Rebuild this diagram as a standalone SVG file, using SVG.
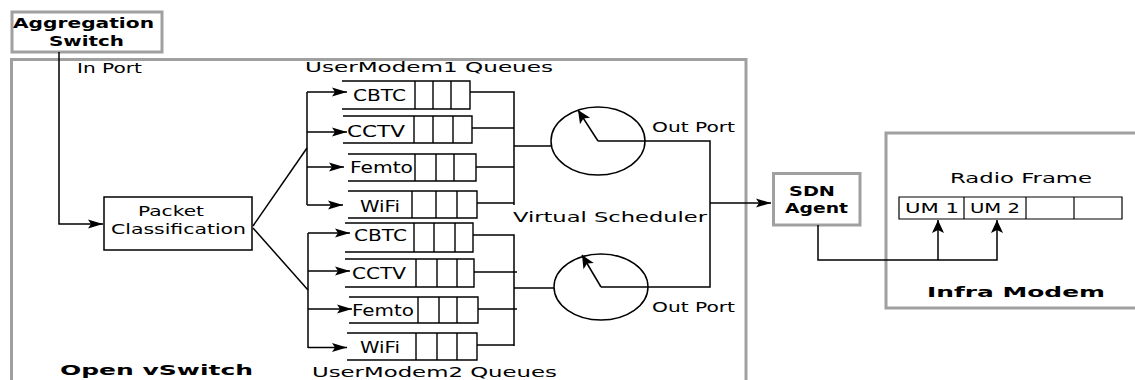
<svg xmlns="http://www.w3.org/2000/svg" width="1135" height="380" viewBox="0 0 1135 380">
<style>
.box{fill:#fff;stroke:#a0a0a0;stroke-width:3}
.ln{fill:none;stroke:#000;stroke-width:1.5}
.q{fill:none;stroke:#000;stroke-width:1.4}
.t{font-family:"DejaVu Sans",sans-serif;font-size:14px;fill:#000}
.ql{font-family:"DejaVu Sans",sans-serif;font-size:16px;fill:#000}
.b{font-family:"DejaVu Sans",sans-serif;font-weight:bold;font-size:14px;fill:#000}
</style>
<defs>
<marker id="ah" markerUnits="userSpaceOnUse" markerWidth="20" markerHeight="12" refX="15" refY="5" orient="auto" overflow="visible">
<path d="M0,0.5 L15,5 L0,9.5 L3,5 Z" fill="#000"/>
</marker>
<marker id="av" markerUnits="userSpaceOnUse" markerWidth="16" markerHeight="14" refX="13" refY="6" orient="auto" overflow="visible">
<path d="M0,0 L13,6 L0,12 L3,6 Z" fill="#000"/>
</marker>
<marker id="ac" markerUnits="userSpaceOnUse" markerWidth="16" markerHeight="14" refX="13" refY="6" orient="auto" overflow="visible">
<path d="M0,0 L13,6 L0,12 L3,6 Z" fill="#000"/>
</marker>
</defs>

<g id="open-vswitch">
<rect class="box" x="11.5" y="59.5" width="734.5" height="360"/>
<text class="b" x="60" y="375" font-size="17" textLength="193" lengthAdjust="spacingAndGlyphs">Open vSwitch</text>
<text class="t" x="77" y="73" textLength="65" lengthAdjust="spacingAndGlyphs">In Port</text>
<text class="t" x="305" y="72" font-size="15" textLength="248" lengthAdjust="spacingAndGlyphs">UserModem1 Queues</text>
<text class="t" x="312" y="377" font-size="15" textLength="245" lengthAdjust="spacingAndGlyphs">UserModem2 Queues</text>
<text class="t" x="513" y="222" font-size="15" textLength="194" lengthAdjust="spacingAndGlyphs">Virtual Scheduler</text>
</g>

<g id="aggregation-switch">
<rect class="box" x="12" y="12" width="150" height="40"/>
<text class="b" x="13" y="28" textLength="141" lengthAdjust="spacingAndGlyphs">Aggregation</text>
<text class="b" x="49" y="46" textLength="75" lengthAdjust="spacingAndGlyphs">Switch</text>
</g>

<g id="packet-classification">
<rect x="104" y="197" width="148" height="53" fill="#fff" stroke="#000" stroke-width="1.5"/>
<text class="t" x="138" y="216" textLength="66" lengthAdjust="spacingAndGlyphs">Packet</text>
<text class="t" x="111" y="234" textLength="135" lengthAdjust="spacingAndGlyphs">Classification</text>
</g>

<g id="um1-cbtc">
<path class="q" d="M342,81 H470 V109 H342 M415,81 V109 M433,81 V109 M451,81 V109"/>
<text class="ql" x="353" y="101" textLength="53" lengthAdjust="spacingAndGlyphs">CBTC</text>
</g>
<g id="um1-cctv">
<path class="q" d="M343,116 H472 V143 H343 M414,116 V143 M433,116 V143 M453,116 V143"/>
<text class="ql" x="347" y="137" textLength="58" lengthAdjust="spacingAndGlyphs">CCTV</text>
</g>
<g id="um1-femto">
<path class="q" d="M348,154 H476 V181 H348 M415,154 V181 M436,154 V181 M454,154 V181"/>
<text class="ql" x="350" y="173" textLength="63" lengthAdjust="spacingAndGlyphs">Femto</text>
</g>
<g id="um1-wifi">
<path class="q" d="M348,191 H477 V218 H348 M412,191 V218 M436,191 V218 M457,191 V218"/>
<text class="ql" x="360" y="212" textLength="40" lengthAdjust="spacingAndGlyphs">WiFi</text>
</g>

<g id="um2-cbtc">
<path class="q" d="M345,223 H473 V252 H345 M414,223 V252 M434,223 V252 M455,223 V252"/>
<text class="ql" x="354" y="241" textLength="53" lengthAdjust="spacingAndGlyphs">CBTC</text>
</g>
<g id="um2-cctv">
<path class="q" d="M345,259 H474 V287 H345 M416,259 V287 M437,259 V287 M457,259 V287"/>
<text class="ql" x="352" y="279" textLength="54" lengthAdjust="spacingAndGlyphs">CCTV</text>
</g>
<g id="um2-femto">
<path class="q" d="M349,297 H478 V323 H349 M418,297 V323 M439,297 V323 M457,297 V323"/>
<text class="ql" x="352" y="316" textLength="62" lengthAdjust="spacingAndGlyphs">Femto</text>
</g>
<g id="um2-wifi">
<path class="q" d="M347,333 H477 V360 H347 M416,333 V360 M437,333 V360 M457,333 V360"/>
<text class="ql" x="360" y="353" textLength="40" lengthAdjust="spacingAndGlyphs">WiFi</text>
</g>

<g id="scheduler1">
<ellipse cx="598" cy="141" rx="47" ry="34" fill="none" stroke="#000" stroke-width="1.5"/>
<text class="t" x="652" y="132" font-size="15" textLength="83" lengthAdjust="spacingAndGlyphs">Out Port</text>
</g>
<g id="scheduler2">
<ellipse cx="601" cy="287" rx="47" ry="33" fill="none" stroke="#000" stroke-width="1.5"/>
<text class="t" x="652" y="312" font-size="15" textLength="83" lengthAdjust="spacingAndGlyphs">Out Port</text>
</g>

<g id="sdn-agent">
<rect class="box" x="773.5" y="173.5" width="86.5" height="51.5"/>
<text class="b" x="789" y="196" textLength="46" lengthAdjust="spacingAndGlyphs">SDN</text>
<text class="b" x="785" y="213" textLength="63" lengthAdjust="spacingAndGlyphs">Agent</text>
</g>

<g id="infra-modem">
<rect class="box" x="886" y="133" width="260" height="175"/>
<text class="t" x="950" y="183" font-size="15" textLength="142" lengthAdjust="spacingAndGlyphs">Radio Frame</text>
<path d="M899,197 H1122 V219 H899 Z M964,197 V219 M1026,197 V219 M1074,197 V219" fill="none" stroke="#000" stroke-width="1.2"/>
<text class="t" x="905" y="213" font-size="15" textLength="54" lengthAdjust="spacingAndGlyphs">UM 1</text>
<text class="t" x="970" y="213" font-size="15" textLength="50" lengthAdjust="spacingAndGlyphs">UM 2</text>
<text class="b" x="927" y="297" font-size="16" textLength="178" lengthAdjust="spacingAndGlyphs">Infra Modem</text>
</g>

<g id="connectors">
<path class="ln" d="M59,52 V224 H103" marker-end="url(#ah)"/>
<path class="ln" d="M253,226 L307,148"/>
<path class="ln" d="M253,228 L308,290"/>
<path class="ln" d="M307,92 V205"/>
<path class="ln" d="M307,92 H347" marker-end="url(#ah)"/>
<path class="ln" d="M307,132 H347" marker-end="url(#ah)"/>
<path class="ln" d="M307,167 H344" marker-end="url(#ah)"/>
<path class="ln" d="M307,205 H343" marker-end="url(#ah)"/>
<path class="ln" d="M308,233 V348"/>
<path class="ln" d="M308,233 H350" marker-end="url(#ah)"/>
<path class="ln" d="M308,271 H350" marker-end="url(#ah)"/>
<path class="ln" d="M308,309 H352" marker-end="url(#ah)"/>
<path class="ln" d="M308,347.5 H347" marker-end="url(#ah)"/>
<path class="ln" d="M470,92 H514 V205"/>
<path class="ln" d="M472,128 H514"/>
<path class="ln" d="M476,167 H514"/>
<path class="ln" d="M477,203 H514"/>
<path class="ln" d="M514,146 H551"/>
<path class="ln" d="M473,235 H514 V346"/>
<path class="ln" d="M474,272 H517"/>
<path class="ln" d="M478,309 H517"/>
<path class="ln" d="M477,345 H514"/>
<path class="ln" d="M514,288 H554"/>
<path class="ln" d="M598,141 L578,110" marker-end="url(#ac)"/>
<path class="ln" d="M601,287 L582,255" marker-end="url(#ac)"/>
<path class="ln" d="M598,141 H710 V287 H601"/>
<path class="ln" d="M710,203 H771" marker-end="url(#ah)"/>
<path class="ln" d="M818,225 V260 H997 V220" marker-end="url(#av)"/>
<path class="ln" d="M938,260 V220" marker-end="url(#av)"/>
</g>
</svg>
